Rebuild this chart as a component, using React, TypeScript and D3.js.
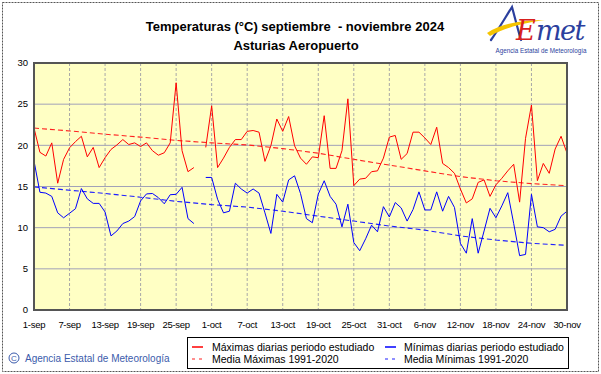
import * as d3 from "d3"

// daily values, 1-sep .. 30-nov 2024 (null = no data)
const maxTemps = [
  22.1, 19.15, 18.7, 20.3, 15.4, 18.3, 19.7, 20.45, 21.1, 18.6,
  19.75, 17.3, 18.5, 19.5, 20.05, 20.7, 20.1, 20.3, 19.85, 20.3,
  19.35, 18.8, 19.1, 20.3, 27.6, 19.35, 16.8, 17.3, null, 19.75,
  24.8, 17.3, 18.45, 19.75, 20.7, 20.7, 21.7, 21.8, 21.6, 18.05,
  19.95, 23.2, 21.7, 23.5, 19.95, 18.45, 17.7, 18.6, 18.5, 23.6,
  17.2, 17.2, 19.35, 25.65, 15.1, 15.9, 16.0, 16.8, 16.9, 18.45,
  21.0, 21.2, 18.3, 19.0, 21.6, 21.6, 20.9, 20.1, 22.2, 17.8,
  17.3, 16.6, 14.7, 13.0, 13.5, 15.5, 15.8, 13.8, 15.2, 16.0,
  16.9, 17.7, 13.1, 20.85, 24.9, 15.7, 17.8, 16.6, 19.55, 21.1,
  19.05,
]

const minTemps = [
  18.1, 14.3, 14.2, 13.8, 11.8, 11.2, 11.75, 12.3, 14.75, 13.5,
  12.95, 12.95, 11.9, 9.0, 9.6, 10.5, 10.8, 11.35, 13.25, 14.1,
  14.15, 13.65, 12.9, 14.0, 14.05, 14.9, 11.1, 10.5, null, 16.1,
  16.1, 13.45, 11.8, 12.0, 15.4, 14.7, 14.2, 14.7, 14.2, 11.8,
  9.3, 14.05, 13.1, 15.8, 16.3, 14.15, 11.1, 10.6, 14.07, 15.7,
  13.8, 12.85, 10.1, 12.85, 8.2, 7.2, 8.65, 10.3, 9.5, 12.55,
  11.3, 13.05, 12.4, 10.8, 12.2, 14.35, 12.15, 12.15, 14.35, 12.0,
  13.8, 12.45, 8.1, 6.9, 11.1, 6.9, 9.6, 12.35, 11.2, 12.65,
  14.25, 10.5, 6.6, 6.75, 14.05, 10.1, 10.0, 9.5, 9.8, 11.4,
  12.0,
]

// climatological means (1991-2020), read at each tick day
const tickLabels = [
  "1-sep", "7-sep", "13-sep", "19-sep", "25-sep", "1-oct", "7-oct", "13-oct",
  "19-oct", "25-oct", "31-oct", "6-nov", "12-nov", "18-nov", "24-nov", "30-nov",
]
const tickDays = [0, 6, 12, 18, 24, 30, 36, 42, 48, 54, 60, 66, 72, 78, 84, 90]
const meanMax = [22.1, 21.75, 21.35, 21.0, 20.6, 20.3, 20.05, 19.6, 19.05, 18.3, 17.6, 16.9, 16.2, 15.7, 15.35, 15.1]
const meanMin = [14.95, 14.55, 14.15, 13.7, 13.2, 12.8, 12.5, 12.0, 11.4, 10.8, 10.2, 9.7, 9.0, 8.5, 8.1, 7.85]

const yTicks = [0, 5, 10, 15, 20, 25, 30]

const W = 601
const H = 374
const margin = { top: 63, right: 34, bottom: 64, left: 34 }
const FONT = "'Liberation Sans', Arial, sans-serif"

export default function App() {
  const x = d3.scaleLinear().domain([0, 90]).range([margin.left, W - margin.right])
  const y = d3.scaleLinear().domain([0, 30]).range([H - margin.bottom, margin.top])

  const daily = d3.line<number | null>()
    .defined(d => d != null)
    .x((_, i) => x(i))
    .y(d => y(d as number))

  const mean = d3.line<number>()
    .x((_, i) => x(tickDays[i]))
    .y(d => y(d))

  const x0 = x(0), x1 = x(90), y0 = y(0), y1 = y(30)

  return (
    <div style={{ position: "absolute", left: 0, top: 0 }}>
      <svg width={W} height={H} style={{ display: "block", fontFamily: FONT }}>
        <rect x={0} y={0} width={W} height={H} fill="#fff" />
        <rect x={2.5} y={2.5} width={W - 5} height={H - 5} fill="none" stroke="#555" strokeWidth={1} strokeDasharray="2,1" />

        {/* title */}
        <text x={295} y={31} textAnchor="middle" fontSize={13} fontWeight="bold" fill="#000" style={{ whiteSpace: "pre" }}>
          {"Temperaturas (°C) septiembre  - noviembre 2024"}
        </text>
        <text x={296} y={50} textAnchor="middle" fontSize={13} fontWeight="bold" fill="#000">
          Asturias Aeropuerto
        </text>

        {/* logo */}
        <g>
          <path d="M491,40 C498,30 505,18 512,7 C515,18 518,30 521,40" fill="none" stroke="#2b3f9e" strokeWidth={2.2} strokeLinecap="round" />
          <path d="M487,33 C500,24 520,20 545,20 C530,22 508,26 490,36 Z" fill="#f5c400" />
          <text x={516} y={40} fontSize={27} fontStyle="italic" fill="#d8201e" fontFamily="'DejaVu Serif', serif">E</text>
          <text x={536} y={40} fontSize={27} fontStyle="italic" fill="#2b3f9e" fontFamily="'DejaVu Serif', serif" letterSpacing={-1.5}>met</text>
          <text x={541} y={53} textAnchor="middle" fontSize={6.3} fill="#2b3f9e">Agencia Estatal de Meteorología</text>
        </g>

        {/* plot area */}
        <rect x={x0} y={y1} width={x1 - x0} height={y0 - y1} fill="#ffffc4" />
        {yTicks.slice(1, -1).map(t => (
          <line key={t} x1={x0} x2={x1} y1={y(t)} y2={y(t)} stroke="#a2a2b8" strokeWidth={1} />
        ))}
        {tickDays.slice(1, -1).map(d => (
          <line key={d} x1={x(d)} x2={x(d)} y1={y1} y2={y0} stroke="#a8a8a8" strokeWidth={1} strokeDasharray="3,2" />
        ))}

        <path d={mean(meanMax) ?? ""} fill="none" stroke="#ff2020" strokeWidth={1.1} strokeDasharray="5,3" />
        <path d={mean(meanMin) ?? ""} fill="none" stroke="#2020ff" strokeWidth={1.1} strokeDasharray="5,3" />
        <path d={daily(maxTemps) ?? ""} fill="none" stroke="#ff0000" strokeWidth={1} />
        <path d={daily(minTemps) ?? ""} fill="none" stroke="#0000ff" strokeWidth={1} />

        <rect x={x0} y={y1} width={x1 - x0} height={y0 - y1} fill="none" stroke="#555" strokeWidth={2} />

        {/* axes labels */}
        {yTicks.map(t => (
          <text key={t} x={28} y={y(t)} dy="0.35em" textAnchor="end" fontSize={9.5} fill="#000">{t}</text>
        ))}
        {tickDays.map((d, i) => (
          <text key={d} x={x(d)} y={328} textAnchor="middle" fontSize={9.5} letterSpacing={-0.3} fill="#000">{tickLabels[i]}</text>
        ))}

        {/* copyright */}
        <circle cx={14} cy={358} r={5} fill="none" stroke="#3b5bab" strokeWidth={1} />
        <text x={14} y={361} textAnchor="middle" fontSize={8} fill="#3b5bab">C</text>
        <text x={25} y={362} fontSize={10} fill="#3b5bab">Agencia Estatal de Meteorología</text>

        {/* legend */}
        <rect x={187.5} y={337.5} width={381} height={31} fill="#fff" stroke="#000" strokeWidth={1} />
        <line x1={192} x2={203} y1={347} y2={347} stroke="#ff0000" strokeWidth={1.5} />
        <text x={212} y={350.5} fontSize={10.5} fill="#000">Máximas diarias periodo estudiado</text>
        <line x1={192} x2={203} y1={359} y2={359} stroke="#ff2020" strokeWidth={1.2} strokeDasharray="3,4" />
        <text x={212} y={362.5} fontSize={10.5} fill="#000">Media Máximas 1991-2020</text>
        <line x1={385} x2={396} y1={347} y2={347} stroke="#0000ff" strokeWidth={1.5} />
        <text x={404} y={350.5} fontSize={10.5} fill="#000">Mínimas diarias periodo estudiado</text>
        <line x1={385} x2={396} y1={359} y2={359} stroke="#2020ff" strokeWidth={1.2} strokeDasharray="3,4" />
        <text x={404} y={362.5} fontSize={10.5} fill="#000">Media Mínimas 1991-2020</text>
      </svg>
    </div>
  )
}
